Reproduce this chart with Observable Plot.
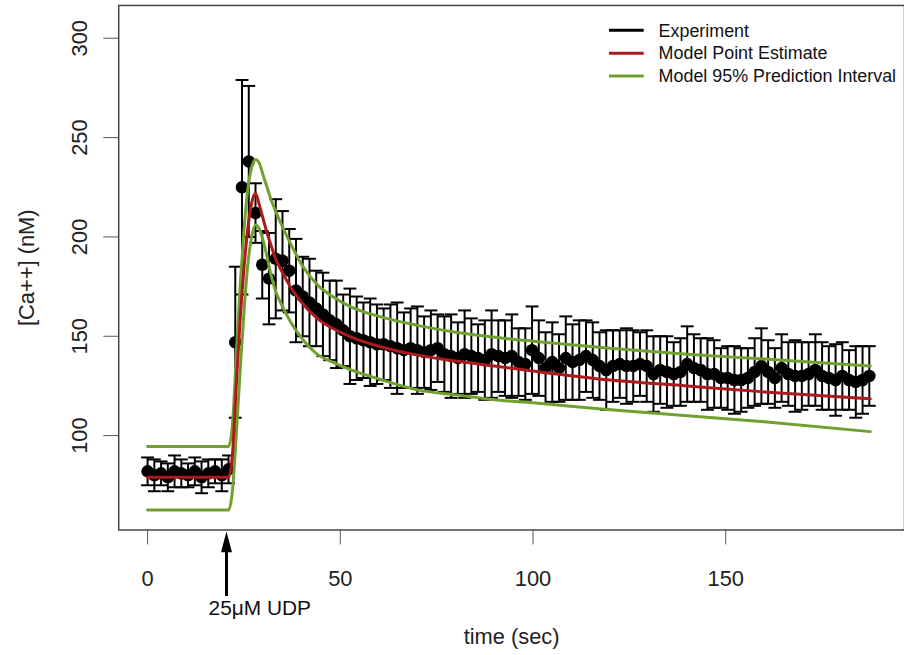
<!DOCTYPE html>
<html><head><meta charset="utf-8">
<script src="https://cdn.jsdelivr.net/npm/d3@7"></script>
<script src="https://cdn.jsdelivr.net/npm/@observablehq/plot@0.6"></script>
<style>
html,body{margin:0;padding:0;background:#fff;overflow:hidden;}
#chart{position:relative;width:904px;height:655px;overflow:hidden;}
</style></head><body><div id="chart"></div>
<script>
// ---- data ----
const time = [0, 1.75, 3.5, 5.25, 7, 8.75, 10.5, 12.25, 14, 15.75,
  17.5, 19.25, 21, 22.75, 24.5, 26.25, 28, 29.75, 31.5, 33.25,
  35, 36.75, 38.5, 40.25, 42, 43.75, 45.5, 47.25, 49, 50.75,
  52.5, 54.25, 56, 57.75, 59.5, 61.25, 63, 64.75, 66.5, 68.25,
  70, 71.75, 73.5, 75.25, 77, 78.75, 80.5, 82.25, 84, 85.75,
  87.5, 89.25, 91, 92.75, 94.5, 96.25, 98, 99.75, 101.5, 103.25,
  105, 106.75, 108.5, 110.25, 112, 113.75, 115.5, 117.25, 119, 120.75,
  122.5, 124.25, 126, 127.75, 129.5, 131.25, 133, 134.75, 136.5, 138.25,
  140, 141.75, 143.5, 145.25, 147, 148.75, 150.5, 152.25, 154, 155.75,
  157.5, 159.25, 161, 162.75, 164.5, 166.25, 168, 169.75, 171.5, 173.25,
  175, 176.75, 178.5, 180.25, 182, 183.75, 185.5, 187.25];
const calcium = [82, 80, 81, 79, 82, 81, 80, 82, 79, 81,
  82, 80, 83, 147, 225, 238, 212, 186, 179, 189,
  188, 183, 173, 170, 167, 164, 161, 158, 156, 153,
  150, 149, 148, 147, 146, 146, 145, 144, 143, 144,
  143, 142, 143, 144, 141, 140, 139, 141, 140, 139,
  138, 141, 140, 139, 140, 137, 136, 143, 139, 134,
  137, 134, 139, 137, 138, 140, 138, 135, 133, 135,
  136, 135, 135, 136, 135, 131, 133, 132, 131, 132,
  136, 134, 133, 131, 131, 129, 129, 128, 128, 129,
  132, 135, 132, 129, 134, 131, 130, 130, 131, 133,
  130, 129, 128, 130, 128, 127, 128, 130];
const calciumSD = [7, 8, 6, 7, 8, 7, 6, 7, 8, 7,
  6, 8, 7, 38, 54, 38, 15, 17, 23, 30,
  25, 21, 26, 20, 22, 19, 21, 20, 22, 18,
  24, 21, 19, 22, 20, 18, 21, 23, 19, 20,
  22, 18, 20, 17, 19, 21, 18, 22, 19, 17,
  20, 22, 18, 19, 21, 17, 18, 22, 19, 18,
  20, 17, 21, 19, 20, 18, 19, 17, 20, 18,
  17, 19, 18, 16, 18, 19, 17, 18, 16, 17,
  19, 17, 16, 18, 17, 15, 16, 17, 16, 15,
  17, 19, 16, 15, 17, 16, 18, 17, 16, 18,
  17, 16, 18, 17, 15, 18, 17, 15];

const modelTime  = [0, 21, 22, 23, 24, 25, 26, 27, 28, 29, 30, 31, 32, 33, 35, 37, 40, 44, 48, 53, 60, 70, 80, 90, 100, 120, 140, 160, 187.5];
const modelPoint = [79, 79, 90, 125, 158, 184, 204, 217, 222, 216, 209, 202, 196, 190, 182, 175, 167, 159, 154, 149.5, 145, 140.5, 137.5, 135, 132.5, 128, 125, 122, 118.5];
const modelUpper = [94.5, 94.5, 105, 140, 175, 203, 224, 235, 239, 237, 231, 225, 219, 214, 205, 197, 186, 176, 170, 164.5, 160, 155.5, 152, 149.5, 147.5, 144, 141, 138.5, 135];
const modelLower = [62.5, 62.5, 72, 100, 132, 162, 186, 200, 206, 204, 198, 190, 181, 174, 165, 157.5, 149, 141, 137, 133, 128.5, 123, 120.5, 118, 116.5, 113, 110, 107, 102];

const xTicks = [0, 50, 100, 150];
const yTicks = [100, 150, 200, 250, 300];
const xLabel = "time (sec)";
const yLabel = "[Ca++] (nM)";
const legendLabels = ["Experiment", "Model Point Estimate", "Model 95% Prediction Interval"];
const annotationText = "25\u03BCM UDP";
const injectionTime = 20.6;

// ---- styles ----
const RED = "#ad1a1c";
const GREEN = "#72a030";
const legendColors = ["#000000", RED, GREEN];
const FONT = "'Liberation Sans', Arial, sans-serif";

const experiment = time.map((t, i) => ({t, v: calcium[i], lo: calcium[i] - calciumSD[i], hi: calcium[i] + calciumSD[i]}));
const model = modelTime.map((t, i) => ({t, point: modelPoint[i], upper: modelUpper[i], lower: modelLower[i]}));

const capSymbol = {draw(context, size) { const w = Math.sqrt(size / Math.PI); context.moveTo(-w, 0); context.lineTo(w, 0); }};

const plot = Plot.plot({
  width: 910, height: 655,
  marginLeft: 119, marginRight: 0, marginTop: 5, marginBottom: 122,
  style: {fontFamily: FONT, fontSize: "22px", color: "#222", background: "#fff", overflow: "visible"},
  x: {domain: [-7.49, 196.38]},
  y: {domain: [52.5, 316.5]},
  marks: [
    Plot.frame({stroke: "#444", strokeWidth: 1.5}),
    Plot.axisX(xTicks, {tickSize: 15, tickPadding: 26, fontSize: 22, stroke: "#555", label: xLabel, labelAnchor: "center", labelOffset: 115, labelArrow: "none"}),
    Plot.axisY(yTicks, {tickSize: 15, tickPadding: 17, tickRotate: -90, fontSize: 22, stroke: "#555", label: yLabel, labelAnchor: "center", labelOffset: 101, labelArrow: "none"}),
    Plot.ruleX(experiment, {x: "t", y1: "lo", y2: "hi", stroke: "#000", strokeWidth: 2}),
    Plot.dot(experiment, {x: "t", y: "lo", symbol: capSymbol, r: 6.5, stroke: "#000", strokeWidth: 2}),
    Plot.dot(experiment, {x: "t", y: "hi", symbol: capSymbol, r: 6.5, stroke: "#000", strokeWidth: 2}),
    Plot.dot(experiment, {x: "t", y: "v", r: 6.3, fill: "#000", stroke: "none"}),
    Plot.line(model, {x: "t", y: "upper", stroke: GREEN, strokeWidth: 3, curve: "monotone-x"}),
    Plot.line(model, {x: "t", y: "lower", stroke: GREEN, strokeWidth: 3, curve: "monotone-x"}),
    Plot.line(model, {x: "t", y: "point", stroke: RED, strokeWidth: 3, curve: "monotone-x"})
  ]
});
document.getElementById("chart").appendChild(plot);

// ---- annotation and legend ----
const svg = d3.select(plot);
const xs = plot.scale("x");
const ax = xs.apply(injectionTime);
const ann = svg.append("g").attr("text-anchor", "start");
ann.append("line").attr("x1", ax).attr("x2", ax).attr("y1", 600).attr("y2", 550)
  .attr("stroke", "#000").attr("stroke-width", 3);
ann.append("path").attr("d", `M${ax},535 L${ax - 5.5},556 L${ax + 5.5},556 Z`).attr("fill", "#000");
ann.append("text").attr("x", ax - 18).attr("y", 619).attr("font-size", 21).attr("font-family", FONT)
  .attr("text-anchor", "start").attr("fill", "#111").text(annotationText);

const leg = svg.append("g").attr("font-family", FONT).attr("font-size", 18).attr("text-anchor", "start");
legendLabels.forEach((lab, i) => {
  const y = 30.5 + i * 23;
  leg.append("line").attr("x1", 613).attr("x2", 648).attr("y1", y).attr("y2", y)
    .attr("stroke", legendColors[i]).attr("stroke-width", 3);
  leg.append("text").attr("x", 663).attr("y", y).attr("dy", "0.35em").attr("text-anchor", "start")
    .attr("fill", "#111").text(lab);
});
</script></body></html>
